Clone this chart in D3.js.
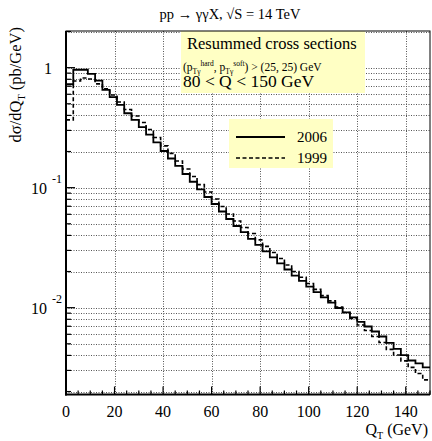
<!DOCTYPE html>
<html>
<head>
<meta charset="utf-8">
<script src="https://cdn.jsdelivr.net/npm/d3@7"></script>
<style>
  html, body { margin: 0; padding: 0; background: #fff; }
  svg { display: block; font-family: "Liberation Serif", "DejaVu Serif", serif; }
</style>
</head>
<body>
<svg id="chart" width="432" height="441"></svg>
<script>
// Bin lower edges in Q_T (GeV); every bin is 3 GeV wide, last one ends at 150.
const binEdges = [0,3,6,9,12,15,18,21,24,27,30,33,36,39,42,45,48,51,54,57,
  60,63,66,69,72,75,78,81,84,87,90,93,96,99,102,105,108,111,114,117,
  120,123,126,129,132,135,138,141,144,147];
const binEnd = 150;

// Resummed dσ/dQ_T (pb/GeV), 2006 calculation
const sigma2006 = [0.727,0.960,0.960,0.886,0.779,0.652,0.567,0.489,0.417,0.367,
  0.320,0.277,0.238,0.202,0.175,0.152,0.130,0.112,0.0966,0.0836,
  0.0731,0.0633,0.0548,0.0479,0.0426,0.0374,0.0333,0.0294,0.0262,0.0234,
  0.0208,0.0185,0.0167,0.0150,0.0135,0.0122,0.0110,0.00994,0.00912,0.00829,
  0.00760,0.00697,0.00633,0.00575,0.00508,0.00453,0.00403,0.00363,0.00343,0.00318];

// Resummed dσ/dQ_T (pb/GeV), 1999 calculation
const sigma1999 = [0.367,0.775,0.821,0.805,0.732,0.665,0.592,0.518,0.448,0.396,
  0.349,0.305,0.262,0.223,0.193,0.167,0.143,0.124,0.106,0.0920,
  0.0805,0.0697,0.0604,0.0528,0.0466,0.0415,0.0367,0.0324,0.0288,0.0257,
  0.0227,0.0200,0.0179,0.0159,0.0142,0.0126,0.0114,0.0101,0.00912,0.00813,
  0.00717,0.00646,0.00575,0.00513,0.00449,0.00403,0.00360,0.00318,0.00283,0.00250];

const xTicks = [0,20,40,60,80,100,120,140];
const yDecades = [1, 0.1, 0.01];
const yDecadeLabels = [["1", ""], ["10", "-1"], ["10", "-2"]];

const svg = d3.select("#chart");
const plotLeft = 66, plotRight = 430, plotTop = 31, plotBottom = 394.5;

const x = d3.scaleLinear().domain([0, 150]).range([plotLeft, plotRight]);
const y = d3.scaleLog().domain([0.00189, 2.02]).range([plotBottom, plotTop]);

const gridColor = "#555";

// horizontal grid at every log subdivision
const minorVals = [];
[0.001, 0.01, 0.1, 1].forEach(d => {
  for (let k = 1; k <= 9; k++) {
    const v = d * k;
    if (v > y.domain()[0] && v < y.domain()[1]) minorVals.push(v);
  }
});

const grid = svg.append("g");
grid.selectAll("line.h").data(minorVals).join("line")
  .attr("x1", plotLeft).attr("x2", plotRight)
  .attr("y1", d => Math.round(y(d)) + 0.5).attr("y2", d => Math.round(y(d)) + 0.5)
  .attr("stroke", gridColor).attr("stroke-width", 1).attr("stroke-dasharray", "1,1.5");
grid.selectAll("line.v").data(xTicks.filter(d => d > 0)).join("line")
  .attr("x1", d => Math.round(x(d)) + 0.5).attr("x2", d => Math.round(x(d)) + 0.5)
  .attr("y1", plotTop).attr("y2", plotBottom)
  .attr("stroke", gridColor).attr("stroke-width", 1).attr("stroke-dasharray", "1,1.5");

// Title panel inside the frame
const panel = svg.append("g");
panel.append("rect").attr("x", 181).attr("y", 31).attr("width", 184).attr("height", 62)
  .attr("fill", "#ffffc4");
panel.append("text").attr("x", 187).attr("y", 49).attr("font-size", 16.5)
  .text("Resummed cross sections");
const sub = panel.append("text").attr("x", 183).attr("y", 71).attr("font-size", 11.5);
sub.append("tspan").text("(p");
sub.append("tspan").attr("font-size", 7.5).attr("dy", 3).text("Tγ");
sub.append("tspan").attr("font-size", 7.5).attr("dy", -8).text("hard");
sub.append("tspan").attr("dy", 5).text(", p");
sub.append("tspan").attr("font-size", 7.5).attr("dy", 3).text("Tγ");
sub.append("tspan").attr("font-size", 7.5).attr("dy", -8).text("soft");
sub.append("tspan").attr("dy", 5).text(") > (25, 25) GeV");
panel.append("text").attr("x", 183).attr("y", 87).attr("font-size", 17.5)
  .text("80 < Q < 150 GeV");

// Histograms drawn as steps
function steps(vals) {
  const pts = binEdges.map((e, i) => [e, vals[i]]);
  pts.push([binEnd, vals[vals.length - 1]]);
  return pts;
}
const stepLine = d3.line().x(d => x(d[0])).y(d => y(d[1])).curve(d3.curveStepAfter);

svg.append("path").attr("d", stepLine(steps(sigma1999)))
  .attr("fill", "none").attr("stroke", "#000").attr("stroke-width", 1.6)
  .attr("stroke-dasharray", "4,2.5");
svg.append("path").attr("d", stepLine(steps(sigma2006)))
  .attr("fill", "none").attr("stroke", "#000").attr("stroke-width", 1.8);

// Legend
const lg = svg.append("g");
lg.append("rect").attr("x", 229).attr("y", 119).attr("width", 104).attr("height", 49)
  .attr("fill", "#ffffc4");
lg.append("line").attr("x1", 236).attr("x2", 285).attr("y1", 137).attr("y2", 137)
  .attr("stroke", "#000").attr("stroke-width", 1.8);
lg.append("line").attr("x1", 236).attr("x2", 285).attr("y1", 158).attr("y2", 158)
  .attr("stroke", "#000").attr("stroke-width", 1.6).attr("stroke-dasharray", "4,2.5");
lg.append("text").attr("x", 297).attr("y", 142).attr("font-size", 15).text("2006");
lg.append("text").attr("x", 297).attr("y", 163).attr("font-size", 15).text("1999");

// Frame
svg.append("rect").attr("x", plotLeft).attr("y", plotTop)
  .attr("width", plotRight - plotLeft).attr("height", plotBottom - plotTop)
  .attr("fill", "none").attr("stroke", "#000").attr("stroke-width", 1);
svg.append("line").attr("x1", plotLeft).attr("x2", plotLeft).attr("y1", plotTop).attr("y2", plotBottom + 1)
  .attr("stroke", "#000").attr("stroke-width", 2);
svg.append("line").attr("x1", plotLeft - 1).attr("x2", plotRight).attr("y1", plotBottom).attr("y2", plotBottom)
  .attr("stroke", "#000").attr("stroke-width", 2);

// Inward ticks on the y axis
svg.append("g").selectAll("line").data(minorVals).join("line")
  .attr("x1", plotLeft).attr("x2", d => plotLeft + (yDecades.includes(d) ? 9 : 5))
  .attr("y1", d => y(d)).attr("y2", d => y(d))
  .attr("stroke", "#000").attr("stroke-width", 1.2);

// Inward ticks on the x axis
const xMinor = d3.range(0, 151, 5);
svg.append("g").selectAll("line").data(xMinor).join("line")
  .attr("x1", d => x(d)).attr("x2", d => x(d))
  .attr("y1", plotBottom).attr("y2", d => plotBottom - (d % 20 === 0 ? 8 : 4))
  .attr("stroke", "#000").attr("stroke-width", 1.2);

// Tick labels
svg.append("g").selectAll("text").data(xTicks).join("text")
  .attr("x", d => x(d)).attr("y", 417).attr("text-anchor", "middle")
  .attr("font-size", 16).text(d => d);

const yl = svg.append("g").selectAll("text").data(yDecades).join("text")
  .attr("font-size", 16);
yl.each(function(d, i) {
  const t = d3.select(this);
  const [base, exp] = yDecadeLabels[i];
  if (exp === "") {
    t.attr("x", 52).attr("y", y(d) + 6).attr("text-anchor", "end").text(base);
  } else {
    t.attr("x", 31).attr("y", y(d) + 6);
    t.append("tspan").text(base);
    t.append("tspan").attr("dx", 5).attr("dy", -11).attr("font-size", 12).text(exp);
  }
});

// Axis titles
const xt = svg.append("text").attr("x", 428).attr("y", 435).attr("text-anchor", "end")
  .attr("font-size", 16);
xt.append("tspan").text("Q");
xt.append("tspan").attr("font-size", 10).attr("dy", 4).text("T");
xt.append("tspan").attr("dy", -4).text(" (GeV)");

const yt = svg.append("text").attr("transform", "translate(21,27) rotate(-90)")
  .attr("text-anchor", "end").attr("font-size", 16.5);
yt.append("tspan").text("dσ/dQ");
yt.append("tspan").attr("font-size", 10).attr("dy", 4).text("T");
yt.append("tspan").attr("dy", -4).text(" (pb/GeV)");

// Title
svg.append("text").attr("x", 230).attr("y", 19).attr("text-anchor", "middle")
  .attr("font-size", 14.5).text("pp → γγX, √S = 14 TeV");
</script>
</body>
</html>
